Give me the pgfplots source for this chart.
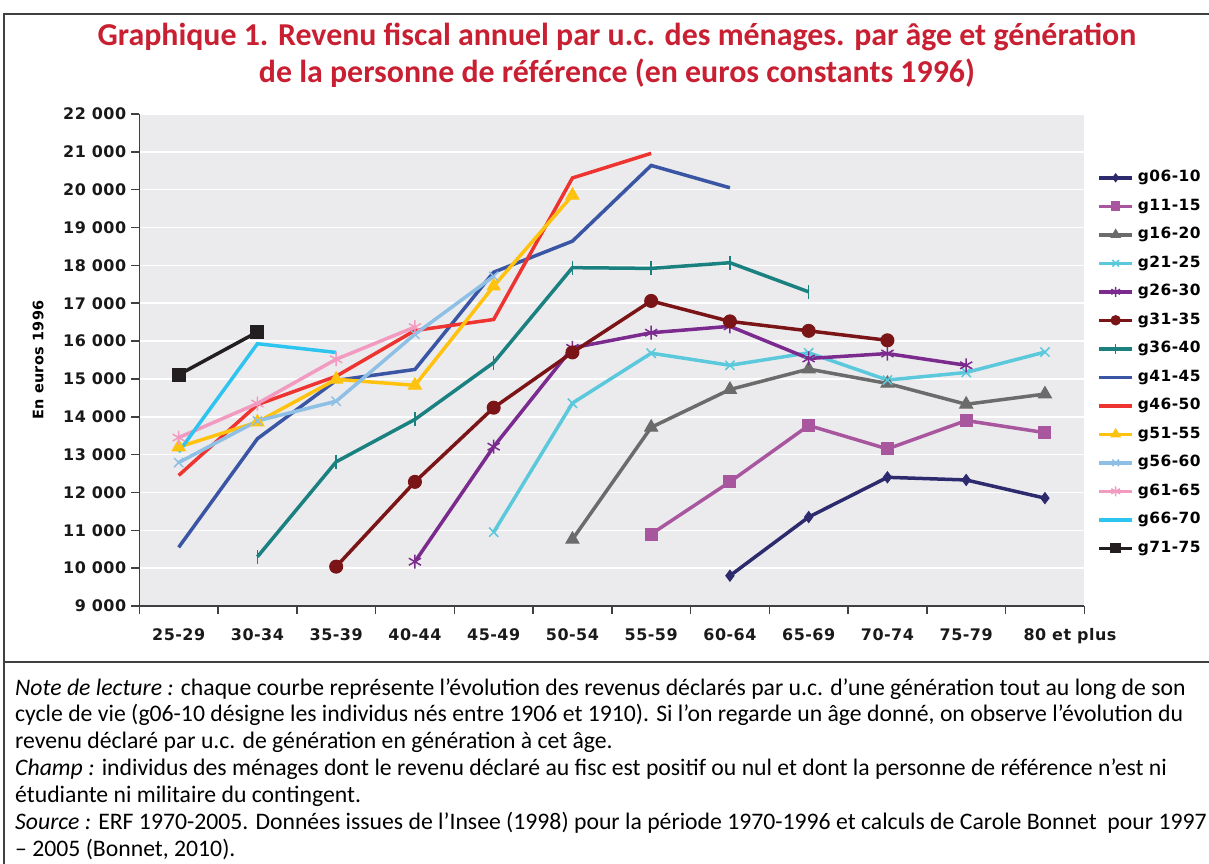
\documentclass[border=0pt]{standalone}
\usepackage{fontspec}
\setmainfont{Carlito}
\newfontfamily\tkfont[LetterSpace=3]{DejaVu Sans}
\newfontfamily\ylfont[LetterSpace=2]{DejaVu Sans}
\usepackage{pgfplots}
\pgfplotsset{compat=1.18}
\definecolor{cA}{HTML}{2E2A6E}
\definecolor{cB}{HTML}{A8579F}
\definecolor{cC}{HTML}{6B6B6B}
\definecolor{cD}{HTML}{5BC8DC}
\definecolor{cE}{HTML}{7B2A8E}
\definecolor{cF}{HTML}{7A1416}
\definecolor{cG}{HTML}{1A8080}
\definecolor{cH}{HTML}{3A55A4}
\definecolor{cI}{HTML}{EE3430}
\definecolor{cJ}{HTML}{FFC20E}
\definecolor{cK}{HTML}{8EC0E6}
\definecolor{cL}{HTML}{F39AC0}
\definecolor{cM}{HTML}{2EC4F0}
\definecolor{cN}{HTML}{231F20}
\definecolor{titlered}{RGB}{200,32,50}
\definecolor{plotbg}{HTML}{EBEBED}
\definecolor{axisgray}{HTML}{404040}
\begin{document}
\begin{tikzpicture}
\path[use as bounding box] (0bp,0bp) rectangle (1209bp,864bp);
\draw[line width=1.3bp, color=axisgray] (1209bp,850bp) -- (4bp,850bp) -- (4bp,0bp);
\draw[line width=1.3bp, color=axisgray] (4bp,202bp) -- (1209bp,202bp);
\node[anchor=base, font=\fontsize{32}{38}\selectfont\bfseries, text=titlered, inner sep=0] at (617bp,818bp) {Graphique 1. Revenu fiscal annuel par u.c. des ménages. par âge et génération};
\node[anchor=base, font=\fontsize{32}{38}\selectfont\bfseries, text=titlered, inner sep=0] at (617bp,781bp) {de la personne de référence (en euros constants 1996)};
\begin{axis}[
  at={(139.3bp,258bp)}, anchor=south west,
  scale only axis, width=945bp, height=492bp,
  xmin=-0.5, xmax=11.5, ymin=9000, ymax=22000,
  scaled y ticks=false,
  axis background/.style={fill=plotbg},
  axis x line*=bottom, axis y line*=left,
  axis line style={line width=1.5bp, color=axisgray},
  tick align=outside,
  major tick length=8bp,
  tick style={line width=1.5bp, color=axisgray},
  ytick={9000,10000,...,22000},
  yticklabels={9 000,10 000,11 000,12 000,13 000,14 000,15 000,16 000,17 000,18 000,19 000,20 000,21 000,22 000},
  xtick={-0.5,0.5,...,11.5},
  xticklabels={},
  extra x ticks={0,1,2,3,4,5,6,7,8,9,10,11},
  extra x tick labels={25-29,30-34,35-39,40-44,45-49,50-54,55-59,60-64,65-69,70-74,75-79,\hspace*{50bp}80 et plus},
  extra x tick style={major tick length=0pt, xticklabel style={yshift=-19bp}},
  ymajorgrids, grid style={white, line width=1.5bp},
  tick label style={font=\tkfont\bfseries\fontsize{16}{18}\selectfont, text=black!90},
  yticklabel style={inner sep=0pt, xshift=-5bp},
  ylabel={\ylfont\bfseries\fontsize{14.5}{16}\selectfont En euros 1996},
  ylabel style={at={(axis description cs:-0.107,0.5)}, anchor=center},
  legend cell align=left,
  legend style={draw=none, fill=none, at={(axis description cs:1.0105,0.889)}, anchor=north west,
    font=\tkfont\bfseries\fontsize{15.5}{17}\selectfont,
    nodes={inner xsep=4bp, inner ysep=0pt, text height=11bp, text depth=3bp},
    row sep=14.5bp},
  legend image code/.code={\draw[mark repeat=2,mark phase=2,#1,every mark/.append style={scale=0.72}] plot coordinates {(0bp,0bp) (16.5bp,0bp) (33bp,0bp)};},
  every axis plot/.append style={line width=3.5bp},
  clip=false,
]
\addplot[cA, mark=diamond*, mark size=5.5bp, mark options={line width=1bp}] coordinates {(7,9800) (8,11350) (9,12400) (10,12330) (11,11850)};
\addlegendentry{g06-10}
\addplot[cB, mark=square*, mark size=6bp, mark options={line width=1bp}] coordinates {(6,10900) (7,12280) (8,13770) (9,13150) (10,13900) (11,13580)};
\addlegendentry{g11-15}
\addplot[cC, mark=triangle*, mark size=7.5bp, mark options={line width=1bp}] coordinates {(5,10760) (6,13720) (7,14720) (8,15260) (9,14880) (10,14330) (11,14600)};
\addlegendentry{g16-20}
\addplot[cD, mark=x, mark size=6.5bp, mark options={line width=1.5bp}] coordinates {(4,10950) (5,14360) (6,15680) (7,15360) (8,15690) (9,14970) (10,15170) (11,15710)};
\addlegendentry{g21-25}
\addplot[cE, mark=asterisk, mark size=7bp, mark options={line width=1.5bp}] coordinates {(3,10170) (4,13210) (5,15820) (6,16220) (7,16390) (8,15540) (9,15670) (10,15360)};
\addlegendentry{g26-30}
\addplot[cF, mark=*, mark size=6.5bp, mark options={line width=1bp}] coordinates {(2,10040) (3,12280) (4,14240) (5,15700) (6,17060) (7,16520) (8,16270) (9,16020)};
\addlegendentry{g31-35}
\addplot[cG, mark=|, mark size=7bp, mark options={line width=1.5bp}] coordinates {(1,10300) (2,12810) (3,13930) (4,15430) (5,17940) (6,17920) (7,18070) (8,17300)};
\addlegendentry{g36-40}
\addplot[cH, mark=none] coordinates {(0,10550) (1,13420) (2,14960) (3,15250) (4,17820) (5,18640) (6,20640) (7,20050)};
\addlegendentry{g41-45}
\addplot[cI, mark=none] coordinates {(0,12450) (1,14320) (2,15070) (3,16280) (4,16570) (5,20310) (6,20960)};
\addlegendentry{g46-50}
\addplot[cJ, mark=triangle*, mark size=7.5bp, mark options={line width=1bp}] coordinates {(0,13200) (1,13860) (2,14990) (3,14830) (4,17450) (5,19850)};
\addlegendentry{g51-55}
\addplot[cK, mark=x, mark size=6.5bp, mark options={line width=1.5bp}] coordinates {(0,12790) (1,13890) (2,14410) (3,16180) (4,17710)};
\addlegendentry{g56-60}
\addplot[cL, mark=asterisk, mark size=7bp, mark options={line width=1.5bp}] coordinates {(0,13450) (1,14350) (2,15520) (3,16370)};
\addlegendentry{g61-65}
\addplot[cM, mark=none] coordinates {(0,13070) (1,15930) (2,15700)};
\addlegendentry{g66-70}
\addplot[cN, mark=square*, mark size=6.5bp, mark options={line width=1bp}] coordinates {(0,15110) (1,16240)};
\addlegendentry{g71-75}
\end{axis}
\begin{scope}[every node/.style={anchor=base west, inner sep=0pt, font=\fontsize{23.8}{28}\selectfont}]
\node at (15bp,168bp) {\textit{Note de lecture :} chaque courbe représente l’évolution des revenus déclarés par u.c. d’une génération tout au long de son};
\node at (15bp,142bp) {cycle de vie (g06-10 désigne les individus nés entre 1906 et 1910). Si l’on regarde un âge donné, on observe l’évolution du};
\node at (15bp,115bp) {revenu déclaré par u.c. de génération en génération à cet âge.};
\node at (15bp,88bp) {\textit{Champ :} individus des ménages dont le revenu déclaré au fisc est positif ou nul et dont la personne de référence n'est ni};
\node at (15bp,61bp) {étudiante ni militaire du contingent.};
\node at (15bp,35bp) {\textit{Source :} ERF 1970-2005. Données issues de l’Insee (1998) pour la période 1970-1996 et calculs de Carole Bonnet\ \ pour 1997};
\node at (15bp,8bp) {– 2005 (Bonnet, 2010).};
\end{scope}
\end{tikzpicture}
\end{document}
